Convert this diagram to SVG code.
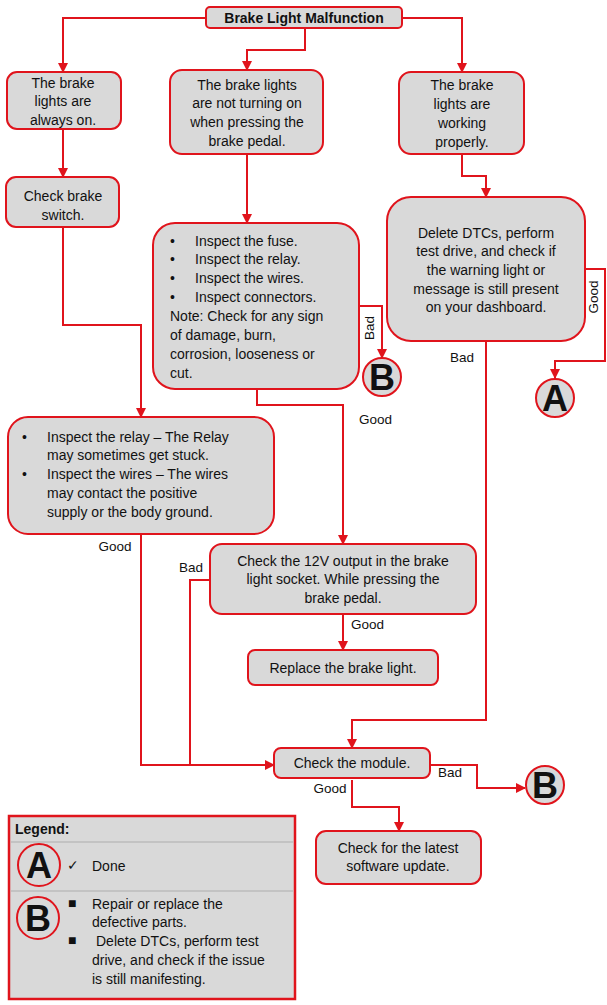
<svg xmlns="http://www.w3.org/2000/svg" width="607" height="1005" viewBox="0 0 607 1005">
<defs>
<style>
.b{fill:#d9d9d9;stroke:#e0141c;stroke-width:2}
.c{fill:none;stroke:#e0141c;stroke-width:2}
text{font-family:"Liberation Sans",Arial,sans-serif;font-size:14px;fill:#111}
.m{text-anchor:middle}
.L{font-size:36px;font-weight:bold;text-anchor:middle}
.lab{font-size:13.5px}
</style>
<marker id="ar" viewBox="0 0 10 10" refX="9" refY="5" markerWidth="5" markerHeight="5" orient="auto"><path d="M0,0L10,5L0,10z" fill="#e0141c"/></marker>
</defs>
<rect width="607" height="1005" fill="#fff"/>
<g id="connectors" class="c" marker-end="url(#ar)">
<path d="M206,18H63V72"/>
<path d="M305,28V50H247V70"/>
<path d="M402,18H462V72"/>
<path d="M63,129V177"/>
<path d="M247,154V223"/>
<path d="M462,154V176H486V197"/>
<path d="M63,227V325H141V417"/>
<path d="M359,306H382V358"/>
<path d="M585,269H605V361H555V378"/>
<path d="M486,341V720H352V748"/>
<path d="M257,389V405H343V544"/>
<path d="M343,614V650"/>
<path d="M141,534V765H274"/>
<path d="M210,580H190V765" marker-end="none"/>
<path d="M430,765H477V788H525"/>
<path d="M352,780V807H399V831"/>
</g>
<g id="labels">
<text x="359" y="424" class="lab">Good</text>
<text x="115" y="551" class="lab" text-anchor="middle">Good</text>
<text x="191" y="572" class="lab" text-anchor="middle">Bad</text>
<text x="351" y="629" class="lab">Good</text>
<text x="450" y="777" class="lab" text-anchor="middle">Bad</text>
<text x="330" y="793" class="lab" text-anchor="middle">Good</text>
<text x="462" y="362" class="lab" text-anchor="middle">Bad</text>
<text transform="translate(374,328) rotate(-90)" class="lab" text-anchor="middle">Bad</text>
<text transform="translate(598,297) rotate(-90)" class="lab" text-anchor="middle">Good</text>
</g>
<g id="title"><rect class="b" x="206" y="7" width="196" height="21" rx="4"/><text x="304" y="23" class="m" font-weight="bold">Brake Light Malfunction</text></g>
<g id="n1"><rect class="b" x="7" y="72" width="114" height="57" rx="10"/><text class="m" x="63" y="88">The brake</text><text class="m" x="63" y="106">lights are</text><text class="m" x="63" y="125">always on.</text></g>
<g id="n2"><rect class="b" x="170" y="70" width="153" height="84" rx="12"/><text class="m" x="247" y="90">The brake lights</text><text class="m" x="247" y="108">are not turning on</text><text class="m" x="247" y="127">when pressing the</text><text class="m" x="247" y="146">brake pedal.</text></g>
<g id="n3"><rect class="b" x="399" y="72" width="125" height="82" rx="12"/><text class="m" x="462" y="90">The brake</text><text class="m" x="462" y="109">lights are</text><text class="m" x="462" y="128">working</text><text class="m" x="462" y="147">properly.</text></g>
<g id="n4"><rect class="b" x="6" y="177" width="113" height="50" rx="10"/><text class="m" x="63" y="201">Check brake</text><text class="m" x="63" y="220">switch.</text></g>
<g id="n5"><rect class="b" x="153" y="223" width="206" height="166" rx="22"/>
<text x="170" y="246">•</text><text x="195" y="246">Inspect the fuse.</text>
<text x="170" y="264">•</text><text x="195" y="264">Inspect the relay.</text>
<text x="170" y="283">•</text><text x="195" y="283">Inspect the wires.</text>
<text x="170" y="302">•</text><text x="195" y="302">Inspect connectors.</text>
<text x="170" y="321">Note: Check for any sign</text><text x="170" y="340">of damage, burn,</text><text x="170" y="359">corrosion, looseness or</text><text x="170" y="378">cut.</text></g>
<g id="n6"><rect class="b" x="387" y="197" width="198" height="144" rx="24"/><text class="m" x="486" y="238">Delete DTCs, perform</text><text class="m" x="486" y="256">test drive, and check if</text><text class="m" x="486" y="275">the warning light or</text><text class="m" x="486" y="294">message is still present</text><text class="m" x="486" y="312">on your dashboard.</text></g>
<g id="n7"><rect class="b" x="8" y="417" width="266" height="117" rx="20"/>
<text x="22" y="442">•</text><text x="47" y="442">Inspect the relay – The Relay</text><text x="47" y="460">may sometimes get stuck.</text>
<text x="22" y="479">•</text><text x="47" y="479">Inspect the wires – The wires</text><text x="47" y="498">may contact the positive</text><text x="47" y="517">supply or the body ground.</text></g>
<g id="n8"><rect class="b" x="210" y="544" width="266" height="70" rx="12"/><text class="m" x="343" y="566">Check the 12V output in the brake</text><text class="m" x="343" y="584">light socket. While pressing the</text><text class="m" x="343" y="603">brake  pedal.</text></g>
<g id="n9"><rect class="b" x="248" y="650" width="190" height="35" rx="7"/><text class="m" x="343" y="673">Replace the brake light.</text></g>
<g id="n10"><rect class="b" x="274" y="748" width="156" height="30" rx="7"/><text class="m" x="352" y="768">Check the module.</text></g>
<g id="n11"><rect class="b" x="316" y="831" width="165" height="53" rx="10"/><text class="m" x="398" y="853">Check for the latest</text><text class="m" x="398" y="871">software update.</text></g>
<g id="B1"><circle class="b" cx="382" cy="377" r="19"/><text class="L" x="382" y="390">B</text></g>
<g id="A1"><circle class="b" cx="555" cy="398" r="19"/><text class="L" x="555" y="411">A</text></g>
<g id="B2"><circle class="b" cx="545" cy="785" r="19"/><text class="L" x="545" y="798">B</text></g>
<g id="legend"><rect x="9" y="816" width="286" height="183" fill="#d9d9d9" stroke="#e0141c" stroke-width="2.5"/>
<line x1="11" y1="842" x2="293" y2="842" stroke="#bbb" stroke-width="1.5"/>
<line x1="11" y1="891" x2="293" y2="891" stroke="#bbb" stroke-width="1.5"/>
<text x="15" y="834" font-weight="bold">Legend:</text>
<circle class="b" cx="39" cy="865" r="21"/><text class="L" x="39" y="878">A</text>
<text x="67" y="870">✓</text><text x="92" y="871">Done</text>
<circle class="b" cx="38" cy="918" r="21"/><text class="L" x="38" y="931">B</text>
<text x="68" y="908" font-size="10">■</text><text x="92" y="909">Repair or replace the</text><text x="92" y="927">defective parts.</text>
<text x="68" y="945" font-size="10">■</text><text x="96" y="946">Delete DTCs, perform test</text><text x="92" y="965">drive, and check if the issue</text><text x="92" y="984">is still manifesting.</text></g>
</svg>
